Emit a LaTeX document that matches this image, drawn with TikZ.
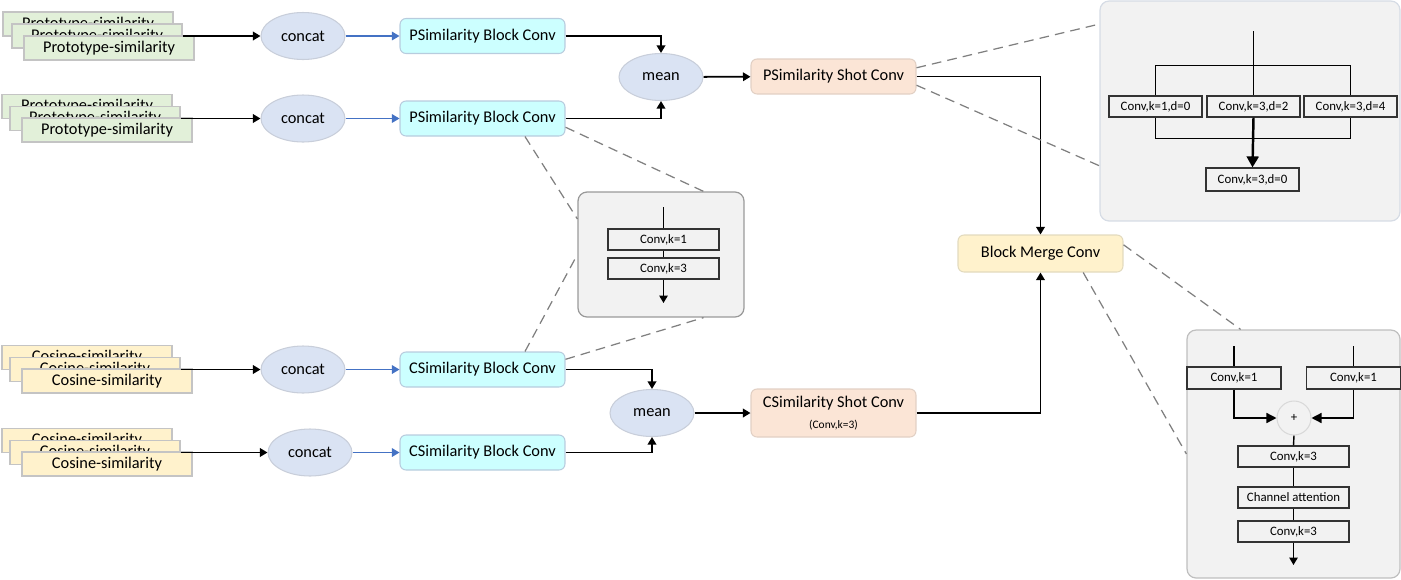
\documentclass[tikz,border=0pt]{standalone}
\usepackage{fontspec}
\setmainfont{Carlito}
\usetikzlibrary{arrows.meta,shapes.geometric}
\definecolor{protfill}{RGB}{226,240,217}
\definecolor{cosfill}{RGB}{255,242,204}
\definecolor{stackline}{RGB}{196,196,196}
\definecolor{ellfill}{RGB}{218,227,243}
\definecolor{ellline}{RGB}{200,206,218}
\definecolor{blockfill}{RGB}{204,255,255}
\definecolor{blockline}{RGB}{184,204,222}
\definecolor{shotfill}{RGB}{251,229,214}
\definecolor{shotline}{RGB}{226,208,196}
\definecolor{mergefill}{RGB}{255,242,204}
\definecolor{mergeline}{RGB}{226,218,190}
\definecolor{insetfill}{RGB}{242,242,242}
\definecolor{bluearrow}{RGB}{68,114,196}
\definecolor{zoomline}{RGB}{127,127,127}
\begin{document}
\begin{tikzpicture}[
        x=0.02cm, y=-0.02cm,
        line width=1pt,
        font=\fontsize{9.3}{11}\selectfont,
        >={Triangle[length=0.15cm,width=0.17cm]}
    ]
    \tikzset{
        simprot/.style = {rectangle, draw=stackline, fill=protfill, line width=0.6pt, minimum width=3.4cm, minimum height=0.48cm, inner sep=1pt},
        simcos/.style = {simprot, fill=cosfill},
        opnode/.style = {ellipse, draw=ellline, fill=ellfill, line width=0.6pt, minimum width=1.68cm, minimum height=0.94cm, inner sep=0pt},
        blocknode/.style = {rectangle, rounded corners=0.12cm, draw=blockline, fill=blockfill, line width=0.6pt, minimum width=3.3cm, minimum height=0.7cm, inner sep=1pt},
        shotnode/.style = {blocknode, draw=shotline, fill=shotfill},
        mergenode/.style = {blocknode, draw=mergeline, fill=mergefill, minimum height=0.74cm},
        insetbox/.style = {rectangle, rounded corners=0.18cm, fill=insetfill, line width=0.7pt},
        convbox/.style = {rectangle, draw=black!80, fill=insetfill, line width=0.7pt, minimum width=2.22cm, minimum height=0.42cm, inner sep=0pt, font=\fontsize{7.3}{8}\selectfont},
        zoomdash/.style = {draw=zoomline, line width=0.7pt, dash pattern=on 5.5pt off 3.5pt},
    }
    \useasboundingbox (0,0) rectangle (1401,579);

    % zoomed-in boxes
    \node[insetbox, draw=black!40, minimum width=3.32cm, minimum height=2.5cm] at (661,254.5) (zoomA) {};
    \node[insetbox, draw={rgb,255:red,214;green,220;blue,229}, minimum width=6cm, minimum height=4.4cm] at (1250,111) (zoomB) {};
    \node[insetbox, draw=black!25, minimum width=4.26cm, minimum height=4.96cm] at (1293.5,454) (zoomC) {};

    % inputs
    \node[simprot] at (88,24) (p1a) {Prototype-similarity};
    \node[simprot] at (97,36) (p1b) {Prototype-similarity};
    \node[simprot] at (109,48) (p1c) {Prototype-similarity};
    \node[simprot] at (87,106.5) (p2a) {Prototype-similarity};
    \node[simprot] at (95,118.5) (p2b) {Prototype-similarity};
    \node[simprot] at (107,130) (p2c) {Prototype-similarity};
    \node[simcos] at (87,357.5) (c1a) {Cosine-similarity};
    \node[simcos] at (95,369.5) (c1b) {Cosine-similarity};
    \node[simcos] at (107,381) (c1c) {Cosine-similarity};
    \node[simcos] at (87,440.5) (c2a) {Cosine-similarity};
    \node[simcos] at (95,452.5) (c2b) {Cosine-similarity};
    \node[simcos] at (107,464) (c2c) {Cosine-similarity};

    % main flow
    \node[opnode] at (303,36) (cat1) {concat};
    \node[opnode] at (303,118.5) (cat2) {concat};
    \node[opnode] at (303,369.5) (cat3) {concat};
    \node[opnode] at (310,452.5) (cat4) {concat};
    \node[blocknode] at (482.5,36) (pblk1) {PSimilarity Block Conv};
    \node[blocknode] at (482.5,118.5) (pblk2) {PSimilarity Block Conv};
    \node[blocknode] at (482.5,369.5) (cblk1) {CSimilarity Block Conv};
    \node[blocknode] at (482.5,452.5) (cblk2) {CSimilarity Block Conv};
    \node[opnode] at (661,77) (pmean) {mean};
    \node[opnode] at (652,413) (cmean) {mean};
    \node[shotnode] at (833.5,76.5) (pshot) {PSimilarity Shot Conv};
    \node[shotnode, minimum height=0.96cm, align=center] at (833.5,413) (cshot) {CSimilarity Shot Conv\\[1pt]{\fontsize{6.5}{7}\selectfont (Conv,k=3)}};
    \node[mergenode] at (1040.5,253.5) (merge) {Block Merge Conv};

    \draw[->] (p1b.east) -- (cat1.west);
    \draw[->] (p2b.east) -- (cat2.west);
    \draw[->] (c1b.east) -- (cat3.west);
    \draw[->] (c2b.east) -- (cat4.west);
    \draw[->, bluearrow, line width=0.8pt] (cat1) -- (pblk1);
    \draw[->, bluearrow, line width=0.8pt] (cat2) -- (pblk2);
    \draw[->, bluearrow, line width=0.8pt] (cat3) -- (cblk1);
    \draw[->, bluearrow, line width=0.8pt] (cat4) -- (cblk2);
    \draw[->] (pblk1.east) -| (pmean.north);
    \draw[->] (pblk2.east) -| (pmean.south);
    \draw[->] (cblk1.east) -| (cmean.north);
    \draw[->] (cblk2.east) -| (cmean.south);
    \draw[->] (pmean) -- (pshot);
    \draw[->] (cmean) -- (cshot);
    \draw[->] (pshot.east) -| (merge.north);
    \draw[->] (cshot.east) -| (merge.south);

    % zoom guides
    \draw[zoomdash] (pblk2.-23) -- (zoomA.157);
    \draw[zoomdash] (pblk2.-6) -- (zoomA.56);
    \draw[zoomdash] (cblk1.23) -- (zoomA.west);
    \draw[zoomdash] (cblk1.7) -- (zoomA.-56);
    \draw[zoomdash] (pshot.6) -- (zoomB.150);
    \draw[zoomdash] (pshot.-6) -- (zoomB.200);
    \draw[zoomdash] (merge.6) -- (zoomC.113);
    \draw[zoomdash] (merge.-24) -- (zoomC.west);

    % block conv detail
    \node[convbox] at (663.5,239.5) (ka) {Conv,k=1};
    \node[convbox] at (663.5,268.5) (kb) {Conv,k=3};
    \coordinate (kin) at (663.5,207);
    \coordinate (kout) at (663.5,303);
    \draw[line width=0.8pt] (kin) -- (ka.north);
    \draw[line width=0.8pt] (ka.south) -- (kb.north);
    \draw[->, line width=0.8pt] (kb.south) -- (kout);

    % shot conv detail
    \node[convbox, minimum width=1.86cm] at (1155.5,106.5) (da) {Conv,k=1,d=0};
    \node[convbox, minimum width=1.86cm] at (1253.5,106.5) (db) {Conv,k=3,d=2};
    \node[convbox, minimum width=1.86cm] at (1350.5,106.5) (dc) {Conv,k=3,d=4};
    \node[convbox, minimum width=1.86cm, minimum height=0.46cm] at (1252.5,179.5) (dd) {Conv,k=3,d=0};
    \coordinate (din) at (1253.5,31);
    \draw[line width=0.8pt] (din) -- (db.north);
    \draw[line width=0.8pt] (da.north) -- ++(0,-30) -| (dc.north);
    \draw[line width=0.8pt] (da.south) -- ++(0,21) -| (dc.south);
    \draw[-{Triangle[length=0.22cm,width=0.24cm]}, line width=1.4pt] (db.south) -- (dd.north);

    % merge conv detail
    \node[convbox, minimum width=1.88cm, minimum height=0.44cm] at (1234,378) (ma) {Conv,k=1};
    \node[convbox, minimum width=1.88cm, minimum height=0.44cm] at (1353.5,378) (mb) {Conv,k=1};
    \node[circle, draw=black!15, fill=insetfill, line width=0.6pt, minimum size=0.68cm, inner sep=0pt, font=\fontsize{7.3}{8}\selectfont] at (1294,418) (plus) {+};
    \node[convbox] at (1293.5,456.5) (mc) {Conv,k=3};
    \node[convbox] at (1293.5,497.5) (md) {Channel attention};
    \node[convbox] at (1293.5,531.5) (me) {Conv,k=3};
    \coordinate (main) at (1234,346);
    \coordinate (mbin) at (1353.5,346);
    \coordinate (mout) at (1293.5,565);
    \draw[line width=0.8pt] (main) -- (ma.north);
    \draw[line width=0.8pt] (mbin) -- (mb.north);
    \draw[-{Triangle[length=0.2cm,width=0.2cm]}, line width=0.8pt] (ma.south) |- (plus.west);
    \draw[-{Triangle[length=0.2cm,width=0.2cm]}, line width=0.8pt] (mb.south) |- (plus.east);
    \draw[line width=0.8pt] (plus.south) -- (mc.north);
    \draw[line width=0.8pt] (mc.south) -- (md.north);
    \draw[line width=0.8pt] (md.south) -- (me.north);
    \draw[->, line width=0.8pt] (me.south) -- (mout);
\end{tikzpicture}
\end{document}
